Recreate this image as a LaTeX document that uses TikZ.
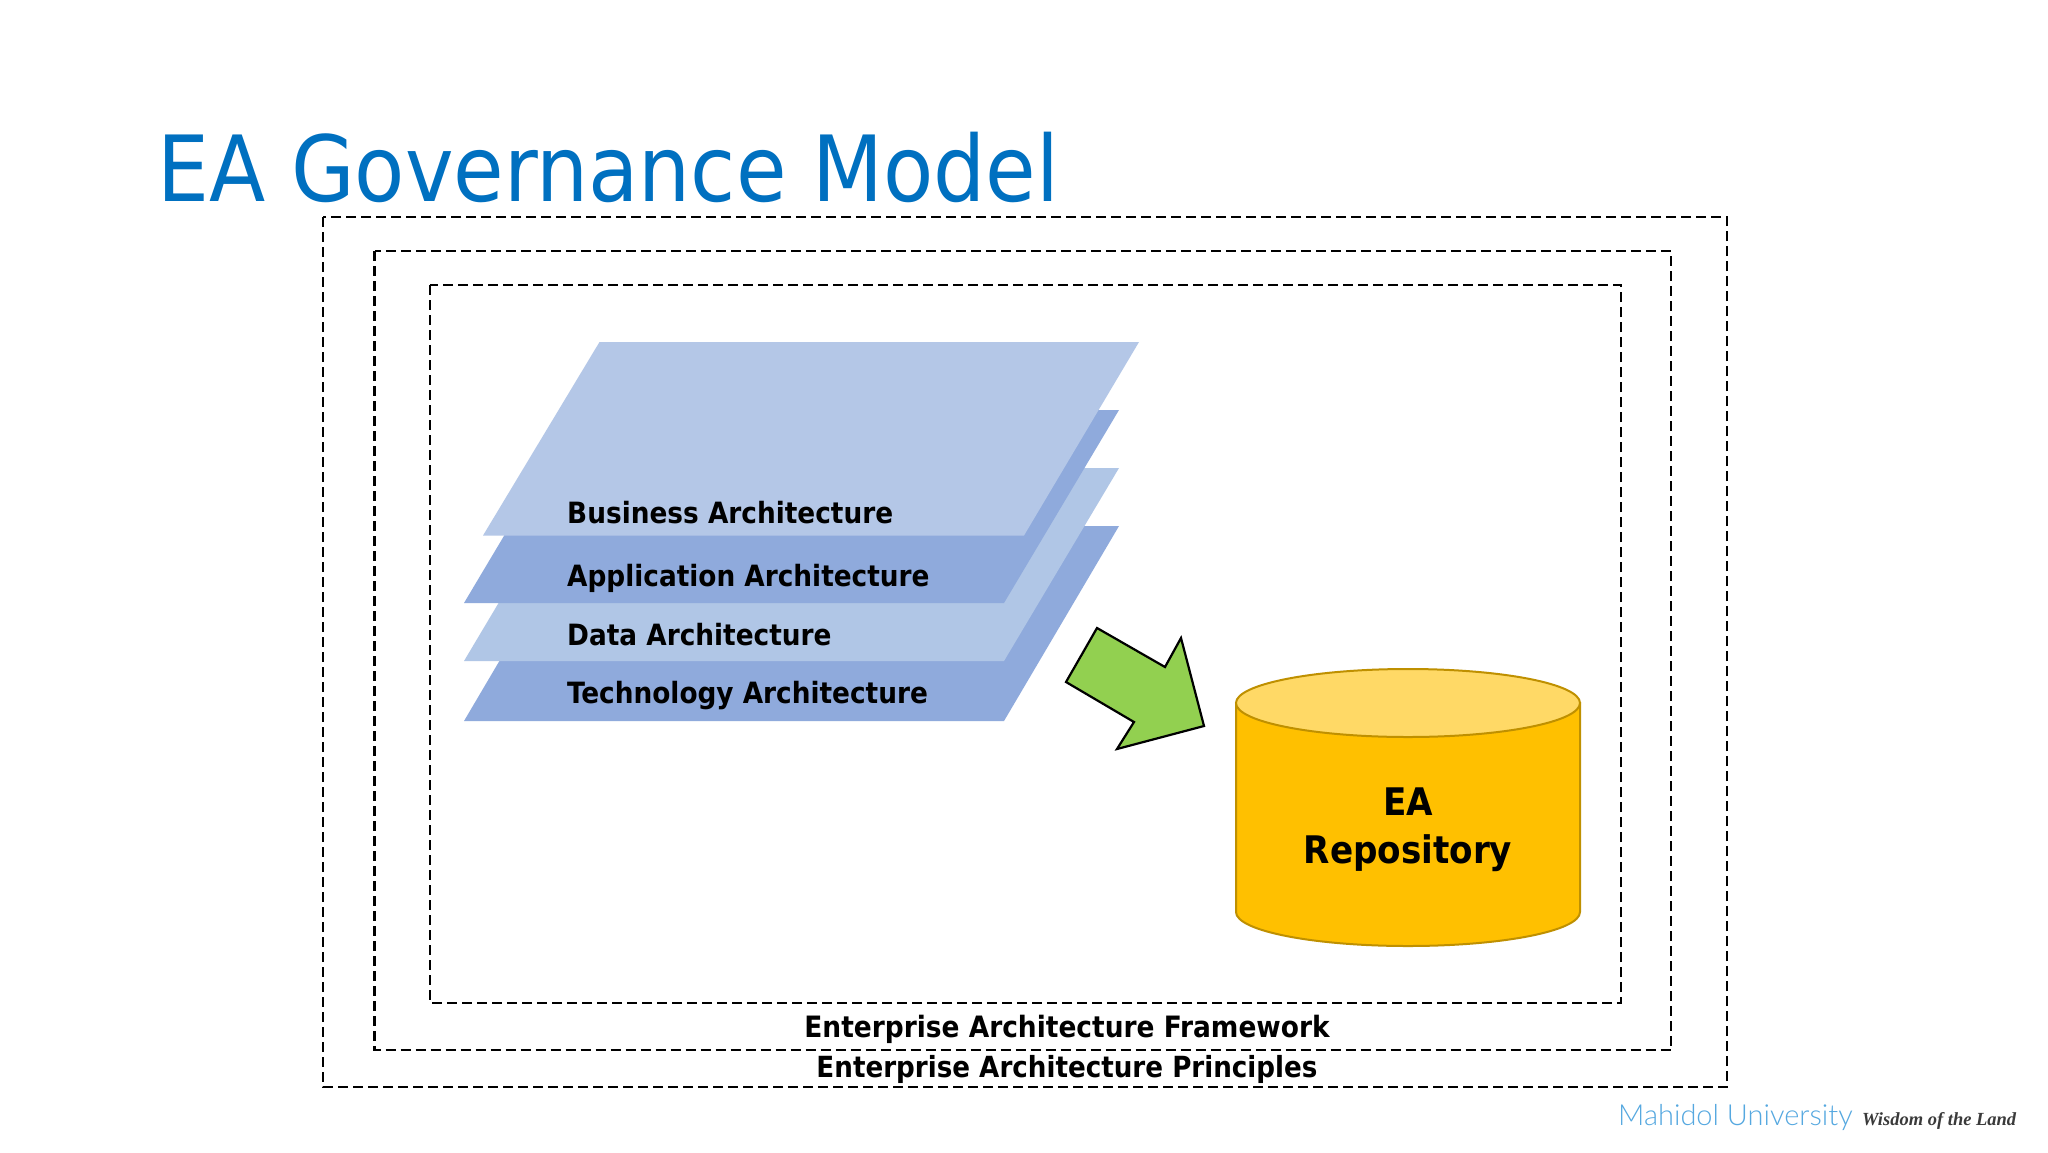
\documentclass[tikz,border=0pt]{standalone}
\usepackage{fontspec}
\setmainfont{DejaVu Sans Condensed}
\newfontfamily\logofont{Lato Light}
\newfontfamily\tagfont{Liberation Serif}
\definecolor{titleblue}{HTML}{0070C0}
\definecolor{planeA}{HTML}{B4C7E7}
\definecolor{planeB}{HTML}{8FAADC}
\definecolor{planeC}{HTML}{B0C6E6}
\definecolor{cylbody}{HTML}{FFC000}
\definecolor{cyltop}{HTML}{FFD966}
\definecolor{cylline}{HTML}{BF9000}
\definecolor{arrowgreen}{HTML}{92D050}
\definecolor{logoblue}{HTML}{55A8E0}
\definecolor{tagdark}{HTML}{3A3A3A}
\tikzset{
  frame/.style={draw=black,line width=2.5pt,dash pattern=on 10pt off 5pt},
  layerlabel/.style={anchor=base west,inner sep=0pt,font=\fontsize{29.3}{29.3}\selectfont\bfseries},
  framelabel/.style={anchor=base,inner sep=0pt,font=\fontsize{29.4}{29.4}\selectfont\bfseries},
  principlelabel/.style={anchor=base,inner sep=0pt,font=\fontsize{29.1}{29.1}\selectfont\bfseries},
  repolabel/.style={anchor=base,inner sep=0pt,font=\fontsize{38}{38}\selectfont\bfseries},
  cyl/.style={draw=cylline,line width=2pt},
}
\begin{document}
\begin{tikzpicture}[x=1pt,y=-1pt]
\useasboundingbox[fill=white] (0,0) rectangle (2048,1152);
\node[anchor=base west,inner sep=0pt,text=titleblue,font=\fontsize{91.3}{91.3}\selectfont] (title) at (157,201) {EA Governance Model};
\draw[frame] (323,217) rectangle (1727,1087);
\draw[frame] (374.5,251) rectangle (1671,1050);
\draw[frame] (430,285) rectangle (1621,1003);
\fill[planeB] (579,526) -- (1119,526) -- (1004,721) -- (464,721) -- cycle;
\fill[planeC] (579,468) -- (1119,468) -- (1004,661) -- (464,661) -- cycle;
\fill[planeB] (579,410) -- (1119,410) -- (1004,603) -- (464,603) -- cycle;
\fill[planeA] (599.5,342) -- (1139,342) -- (1024,535.5) -- (483,535.5) -- cycle;
\node[layerlabel] (biz) at (567,523) {Business Architecture};
\node[layerlabel] (app) at (567,586) {Application Architecture};
\node[layerlabel] (dat) at (567,645) {Data Architecture};
\node[layerlabel] (tec) at (567,703) {Technology Architecture};
\draw[draw=black,line width=2.2pt,fill=arrowgreen,line join=miter] (1097,628) -- (1165,667) -- (1181,638) -- (1204,726) -- (1117,749) -- (1134,722) -- (1066,682) -- cycle;
\draw[cyl,fill=cylbody] (1236,703) -- (1236,912) arc[start angle=180,end angle=360,x radius=172,y radius=-34] -- (1580,703) -- cycle;
\draw[cyl,fill=cyltop] (1408,703) ellipse[x radius=172,y radius=34];
\node[repolabel] (ea) at (1408,815) {EA};
\node[repolabel] (repo) at (1408,863) {Repository};
\node[framelabel] (fw) at (1067,1037.5) {Enterprise Architecture Framework};
\node[principlelabel] (pr) at (1067,1077) {Enterprise Architecture Principles};
\node[anchor=base west,inner sep=0pt,text=logoblue,font=\logofont\fontsize{29}{29}\selectfont] (logo) at (1618,1125) {Mahidol University};
\node[anchor=base west,inner sep=0pt,text=tagdark,font=\tagfont\bfseries\itshape\fontsize{18.5}{18.5}\selectfont] (tag) at (1862,1125) {Wisdom of the Land};
\end{tikzpicture}
\end{document}
